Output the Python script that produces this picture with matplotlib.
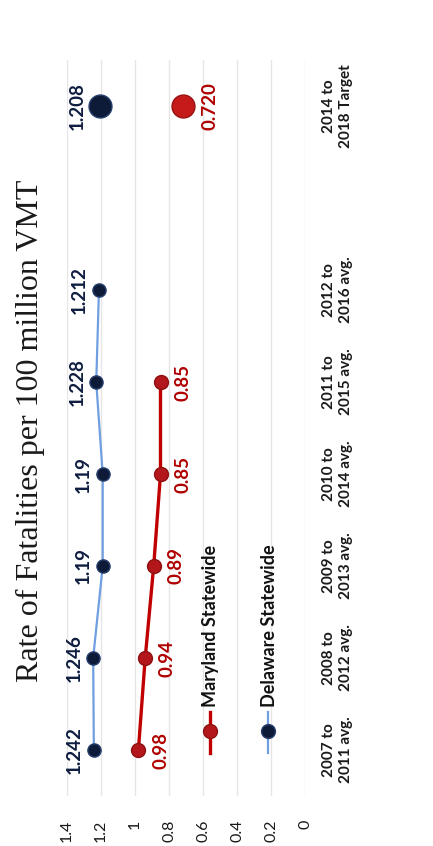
import numpy as np
import matplotlib
matplotlib.use("Agg")
import matplotlib.pyplot as plt
from matplotlib.lines import Line2D

# data
categories = ["2007 to\n2011 avg.", "2008 to\n2012 avg.", "2009 to\n2013 avg.",
              "2010 to\n2014 avg.", "2011 to\n2015 avg.", "2012 to\n2016 avg.",
              "", "2014 to\n2018 Target"]
delaware = [1.242, 1.246, 1.19, 1.19, 1.228, 1.212]
maryland = [0.98, 0.94, 0.89, 0.85, 0.85]
delaware_target = 1.208
maryland_target = 0.720
value_ticks = [0, 0.2, 0.4, 0.6, 0.8, 1.0, 1.2, 1.4]
value_labels = ["0", "0.2", "0.4", "0.6", "0.8", "1", "1.2", "1.4"]
title = "Rate of Fatalities per 100 million VMT"

DE_LINE = "#6f9fe0"
DE_DOT = "#0e1b38"
MD_LINE = "#c00000"
MD_DOT = "#b3171c"
DE_TXT = "#0f1d40"
MD_TXT = "#b00000"

fig = plt.figure(figsize=(4.33, 8.46), dpi=100)
W, H = 433, 846
# chart is drawn turned on its side: values run right->left, categories bottom->top
ax = fig.add_axes([67 / W, (H - 796) / H, 238 / W, 736 / H])
ax.set_xlim(1.4, 0)
ax.set_ylim(-0.5, len(categories) - 0.5)

pos = np.arange(len(categories))
target_pos = pos[-1]

# Delaware
ax.plot(delaware, pos[:len(delaware)], color=DE_LINE, lw=1.6, zorder=2)
ax.plot(delaware, pos[:len(delaware)], "o", ms=9.5, mfc=DE_DOT, mec="#27406e", mew=1, zorder=3)
ax.plot([delaware_target], [target_pos], "o", ms=16.5, mfc=DE_DOT, mec="#27406e", mew=1, zorder=3)

# Maryland
ax.plot(maryland, pos[:len(maryland)], color=MD_LINE, lw=2.4, zorder=2)
ax.plot(maryland, pos[:len(maryland)], "o", ms=10, mfc=MD_DOT, mec="#8e1010", mew=1, zorder=3)
ax.plot([maryland_target], [target_pos], "o", ms=16.5, mfc="#c41a1a", mec="#9a1212", mew=1, zorder=3)

# data labels
lab_kw = dict(rotation=90, ha="center", va="center", fontsize=13.5,
              fontweight="bold", family="Lato", textcoords="offset points")
for p, v in zip(pos, delaware):
    ax.annotate(f"{v:g}", (v, p), xytext=(-14, 0), color=DE_TXT, **lab_kw)
ax.annotate(f"{delaware_target:.3f}", (delaware_target, target_pos), xytext=(-16, 0),
            color=DE_TXT, **lab_kw)
for p, v in zip(pos, maryland):
    ax.annotate(f"{v:g}", (v, p), xytext=(16, 0), color=MD_TXT, **lab_kw)
ax.annotate(f"{maryland_target:.3f}", (maryland_target, target_pos), xytext=(20, 0),
            color=MD_TXT, **lab_kw)

# axes styling
ax.set_xticks(value_ticks)
ax.set_xticklabels(value_labels, rotation=90, ha="center", va="top",
                   fontsize=11.5, family="Lato", color="#1a1a1a")
ax.set_yticks(pos)
ax.yaxis.tick_right()
ax.set_yticklabels(categories, rotation=90, ha="left", va="center",
                   multialignment="center", fontsize=11, fontweight="bold",
                   family="Lato", color="#1a1a1a", linespacing=1.3)
ax.tick_params(axis="x", length=0, pad=17)
ax.tick_params(axis="y", length=0, pad=12)
ax.grid(axis="x", color="#e6e6e6", lw=1)
ax.set_axisbelow(True)
for s in ax.spines.values():
    s.set_visible(False)

# legend drawn by hand so it can be turned with the chart
for xf, lc, dc, ec, lw, name in [(0.601, MD_LINE, MD_DOT, "#8e1010", 2.4, "Maryland Statewide"),
                                 (0.845, DE_LINE, DE_DOT, "#27406e", 1.6, "Delaware Statewide")]:
    ax.add_line(Line2D([xf, xf], [0.058, 0.114], color=lc, lw=lw, transform=ax.transAxes,
                       clip_on=False))
    ax.add_line(Line2D([xf], [0.088], marker="o", ms=10, mfc=dc, mec=ec,
                       transform=ax.transAxes, clip_on=False))
    ax.text(xf + 0.004, 0.121, name, rotation=90, ha="center", va="bottom",
            fontsize=13, fontweight="bold", family="Lato", color="#111111",
            transform=ax.transAxes)

fig.text(30 / W, (H - 431) / H, title, rotation=90, ha="center", va="center",
         fontsize=23, family="Liberation Serif", color="#1a1a1a")

fig.savefig("out.png", dpi=100)
